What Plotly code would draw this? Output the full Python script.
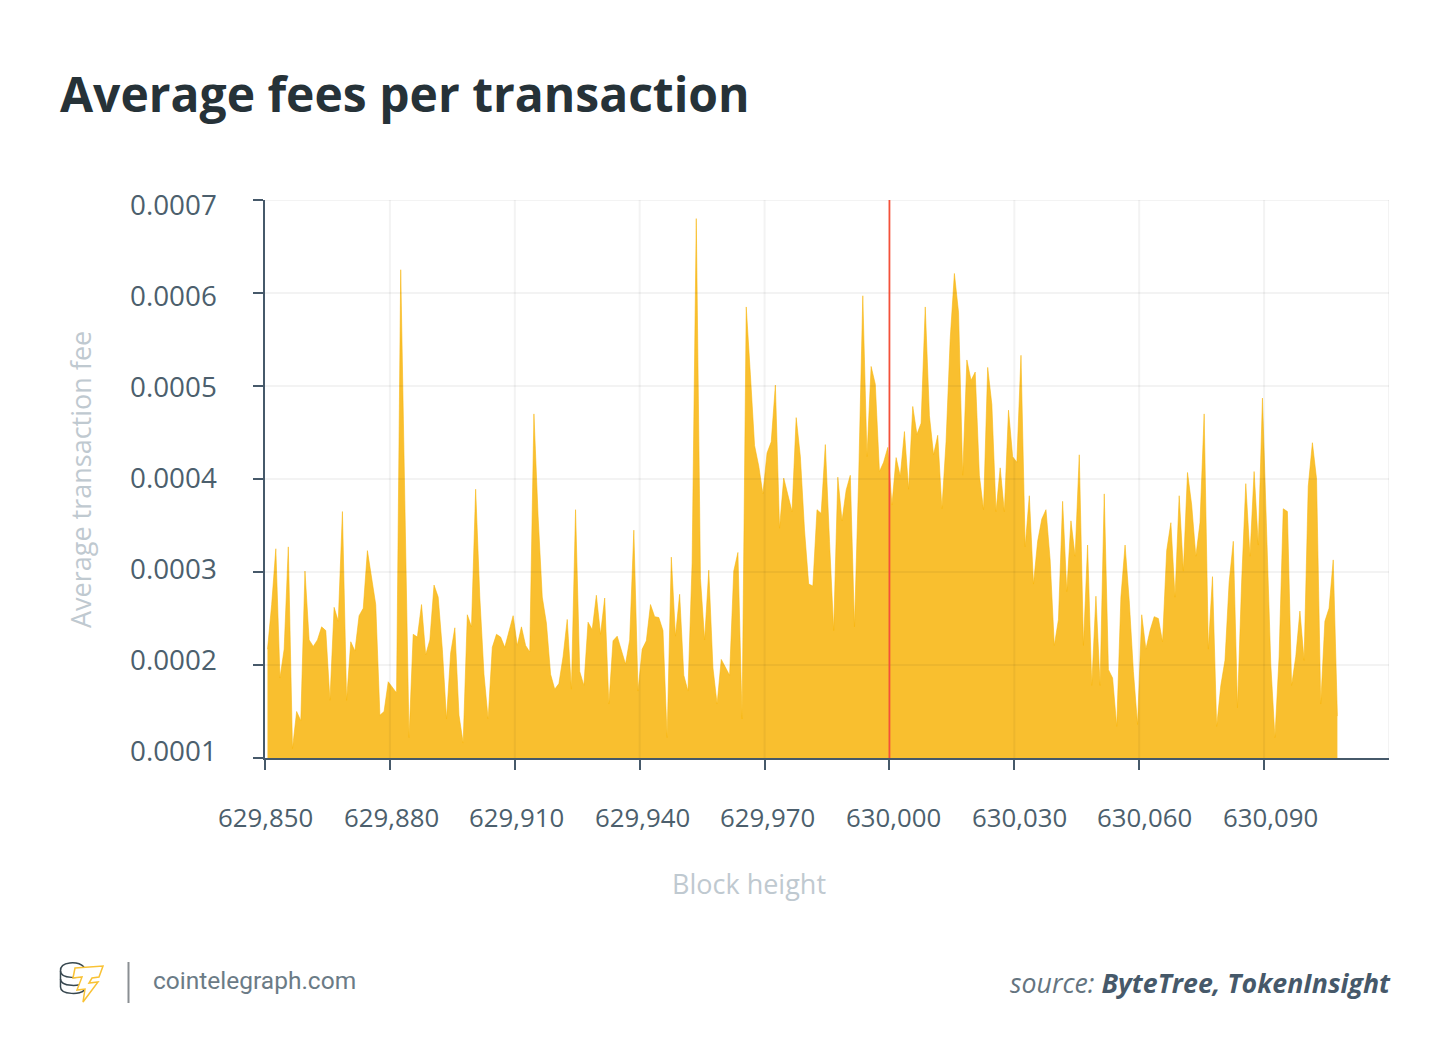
import plotly.graph_objects as go

START_BLOCK = 629850
fees_e4 = [
 2.17,2.65,3.25,1.86,2.17,3.27,1.10,1.50,1.40,3.01,2.27,2.20,2.27,2.41,2.37,1.62,2.62,2.47,3.65,1.62,
 2.25,2.15,2.53,2.61,3.23,2.93,2.65,1.46,1.50,1.82,1.76,1.70,6.25,3.92,1.22,2.33,2.30,2.65,2.11,2.27,
 2.86,2.73,2.17,1.42,2.13,2.40,1.46,1.16,2.54,2.41,3.89,2.73,1.90,1.42,2.19,2.33,2.30,2.19,2.37,2.53,
 2.21,2.41,2.21,2.14,4.70,3.60,2.73,2.45,1.90,1.74,1.80,2.09,2.49,1.74,3.67,1.93,1.78,2.46,2.38,2.75,
 2.33,2.72,1.58,2.26,2.31,2.17,2.01,2.27,3.45,1.72,2.17,2.26,2.65,2.52,2.51,2.37,1.22,3.16,2.31,2.76,
 1.89,1.72,3.10,6.80,2.93,2.27,3.02,1.97,1.58,2.06,1.97,1.89,3.01,3.21,1.42,5.85,5.12,4.36,4.14,3.84,
 4.28,4.40,5.01,3.47,4.01,3.82,3.65,4.66,4.24,3.45,2.87,2.85,3.67,3.63,4.37,3.33,2.37,4.02,3.55,3.88,
 4.04,2.41,4.00,5.97,4.24,5.21,5.02,4.08,4.18,4.34,3.72,4.23,4.03,4.51,3.89,4.78,4.48,4.60,5.85,4.68,
 4.26,4.47,3.68,4.40,5.51,6.21,5.79,4.04,5.28,5.06,5.15,4.04,3.67,5.20,4.80,3.65,4.12,3.65,4.74,4.24,
 4.18,5.33,3.27,3.82,2.87,3.33,3.57,3.67,3.13,2.21,2.49,3.76,2.79,3.55,3.17,4.26,2.21,3.29,1.78,2.74,
 1.78,3.84,1.95,1.86,1.34,2.73,3.29,2.69,1.93,1.36,2.54,2.17,2.37,2.52,2.50,2.25,3.23,3.53,2.73,3.82,
 3.01,4.07,3.72,3.17,3.53,4.70,2.17,2.95,1.34,1.78,2.05,2.89,3.33,1.54,2.89,3.95,3.17,4.08,3.29,4.87,
 3.53,2.01,1.22,2.09,3.68,3.65,1.78,2.09,2.58,2.05,3.92,4.39,4.00,1.58,2.47,2.61,3.13,1.45]
blocks = [START_BLOCK + i for i in range(len(fees_e4))]
fees = [round(v * 1e-4, 7) for v in fees_e4]

x_tick_blocks = [629850, 629880, 629910, 629940, 629970, 630000, 630030, 630060, 630090]
x_tick_labels = ["629,850", "629,880", "629,910", "629,940", "629,970", "630,000", "630,030", "630,060", "630,090"]
y_tick_values = [0.0001, 0.0002, 0.0003, 0.0004, 0.0005, 0.0006, 0.0007]
y_tick_labels = ["0.0001", "0.0002", "0.0003", "0.0004", "0.0005", "0.0006", "0.0007"]
HALVING_BLOCK = 630000

# layout: the page has an 8px body margin, so the figure is inset and sized to fit
PAGE_W, PAGE_H, OFF = 1450, 1063, 8
W, H = PAGE_W - 2 * OFF, PAGE_H - 2 * OFF
L, R, T, B = 265, 1389, 200, 758
BAND = 0.6
xmin = START_BLOCK - BAND
xmax = xmin + 270
DARK = "#46596a"
SOFT = "#bfc9d0"
FONT = "Open Sans"

fx = lambda px: (px - L) / (R - L)
fy = lambda py: (B - py) / (B - T)

fig = go.Figure()
fig.add_trace(go.Scatter(x=blocks, y=fees, mode="lines", line=dict(width=1, color="rgba(248,180,10,0.55)"),
                         fill="tozeroy", fillcolor="rgba(248,180,10,0.85)", hoverinfo="skip", showlegend=False))

shapes = []
grid = "rgba(20,20,20,0.05)"
for b in x_tick_blocks[1:] + [630120]:
    if b != HALVING_BLOCK:
        xv = b - BAND
        shapes.append(dict(type="line", xref="x", yref="paper", x0=xv, x1=xv, y0=0, y1=1,
                           line=dict(color=grid, width=2), layer="above"))
for v in y_tick_values[1:]:
    shapes.append(dict(type="line", xref="paper", yref="y", x0=0, x1=1, y0=v, y1=v,
                       line=dict(color=grid, width=2), layer="above"))
shapes.append(dict(type="line", xref="x", yref="paper", x0=HALVING_BLOCK - BAND, x1=HALVING_BLOCK - BAND,
                   y0=0, y1=1, line=dict(color="#f4513a", width=1.8), layer="above"))

def path(points, close=False):
    s = "M " + " L ".join(f"{fx(a):.5f},{fy(b):.5f}" for a, b in points)
    return s + (" Z" if close else "")

# logo: coin stack
for top in [971, 979, 987]:
    shapes.append(dict(type="path", xref="paper", yref="paper",
                       path=f"M {fx(60.5):.5f},{fy(top):.5f} C {fx(60.5):.5f},{fy(top+8):.5f} {fx(82):.5f},{fy(top+8):.5f} {fx(84):.5f},{fy(top+3):.5f}",
                       line=dict(color="#37474f", width=1.5)))
shapes.append(dict(type="path", xref="paper", yref="paper",
                   path=f"M {fx(84):.5f},{fy(967):.5f} C {fx(78):.5f},{fy(961):.5f} {fx(60):.5f},{fy(961):.5f} {fx(60.5):.5f},{fy(971):.5f} L {fx(60.5):.5f},{fy(987):.5f}",
                   line=dict(color="#37474f", width=1.5)))
shapes.append(dict(type="path", xref="paper", yref="paper",
                   path=path([(75, 968), (103, 966), (99, 977), (92, 978), (89, 983), (98, 982), (83, 1002),
                              (85, 989), (77, 990), (82, 977), (73, 978)], True),
                   fillcolor="white", line=dict(color="#f9c234", width=1.5)))
shapes.append(dict(type="line", xref="paper", yref="paper", x0=fx(128.5), x1=fx(128.5), y0=fy(962), y1=fy(1003),
                   line=dict(color="#8a8f93", width=2)))

ann = []
def text(t, px, py, size, color, anchor="center", family=FONT, angle=0):
    ann.append(dict(text=t, x=fx(px), y=fy(py), xref="paper", yref="paper", xanchor=anchor, yanchor="middle",
                    showarrow=False, textangle=angle, font=dict(family=family, size=size, color=color)))

text("<b>Average fees per transaction</b>", 58, 93, 48, "#263238", "left")
for k, lab in enumerate(y_tick_labels):
    text(lab, 219, 750 - 91 * k, 27.8, "#4c5f6d", "right")
for k, lab in enumerate(x_tick_labels):
    text(lab, 265.5 + 125.6 * k, 817, 25.8, "#4c5f6d")
text("Block height", 749, 883, 27, SOFT)
text("Average transaction fee", 80, 480, 27, SOFT, angle=-90)
text("cointelegraph.com", 151, 980, 24.5, "#6b7b86", "left", family="Roboto")
text("<i><span style='color:#64747f'>source: </span></i><b><i>ByteTree, TokenInsight</i></b>", 1393, 982, 26.7, DARK, "right")

fig.update_layout(
    width=W, height=H, paper_bgcolor="white", plot_bgcolor="white",
    margin=dict(l=L - OFF, r=W - (R - OFF), t=T - OFF, b=H - (B - OFF), pad=0),
    shapes=shapes, annotations=ann,
    font=dict(family=FONT),
    xaxis=dict(range=[xmin, xmax], tickmode="array", tickvals=[b - BAND for b in x_tick_blocks],
               showticklabels=False, showgrid=False, zeroline=False, showline=True, linecolor=DARK, linewidth=2,
               ticks="outside", ticklen=10, tickwidth=2, tickcolor=DARK),
    yaxis=dict(range=[0.0001, 0.0007], tickmode="array", tickvals=y_tick_values,
               showticklabels=False, showgrid=False, zeroline=False, showline=True, linecolor=DARK, linewidth=2,
               ticks="outside", ticklen=10, tickwidth=2, tickcolor=DARK),
)
fig.write_html("out.html")
